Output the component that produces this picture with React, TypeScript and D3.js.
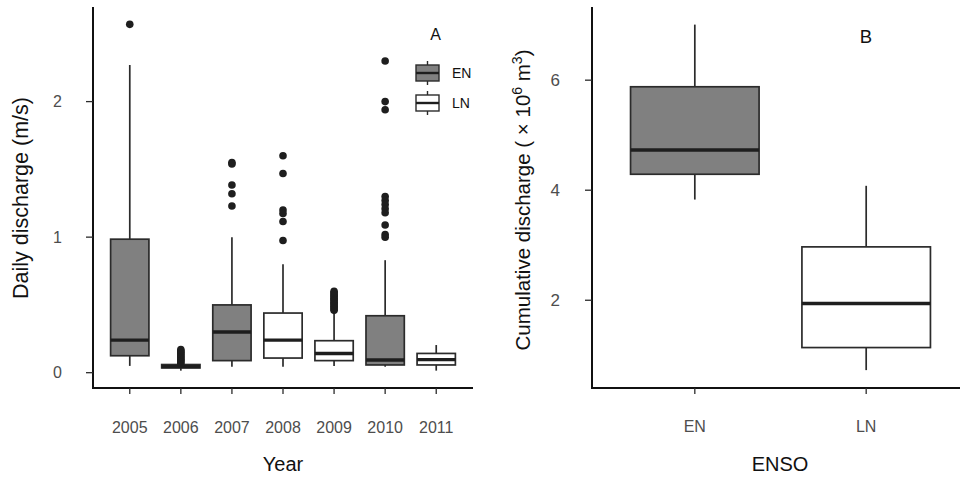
import React from "react";
import * as d3 from "d3";

// ---------- Panel A data (daily discharge by year) ----------
const yearsA = ["2005", "2006", "2007", "2008", "2009", "2010", "2011"];
const ensoA = ["EN", "EN", "EN", "LN", "LN", "EN", "LN"];
const lowA = [0.05, 0.015, 0.044, 0.044, 0.05, 0.044, 0.015];
const q1A = [0.125, 0.035, 0.089, 0.108, 0.089, 0.057, 0.057];
const medA = [0.24, 0.045, 0.3, 0.24, 0.142, 0.094, 0.096];
const q3A = [0.985, 0.06, 0.5, 0.44, 0.236, 0.42, 0.142];
const highA = [2.27, 0.065, 1.0, 0.8, 0.445, 0.83, 0.204];
const out2005 = [2.57];
const out2006 = [0.07, 0.08, 0.09, 0.1, 0.11, 0.12, 0.13, 0.14, 0.15, 0.16, 0.17];
const out2007 = [1.55, 1.54, 1.385, 1.32, 1.23];
const out2008 = [1.6, 1.47, 1.2, 1.175, 1.115, 0.975];
const out2009 = [0.46, 0.47, 0.48, 0.49, 0.5, 0.51, 0.52, 0.53, 0.54, 0.55, 0.56, 0.57, 0.58, 0.59, 0.6];
const out2010 = [2.3, 2.0, 1.94, 1.3, 1.27, 1.24, 1.21, 1.18, 1.09, 1.02, 1.0];
const out2011: number[] = [];
const outliersA = [out2005, out2006, out2007, out2008, out2009, out2010, out2011];
const ticksA = [0, 1, 2];

// ---------- Panel B data (cumulative discharge by ENSO) ----------
const ensoB = ["EN", "LN"];
const lowB = [3.83, 0.73];
const q1B = [4.29, 1.14];
const medB = [4.73, 1.94];
const q3B = [5.88, 2.97];
const highB = [7.01, 4.08];
const ticksB = [2, 4, 6];

const fillFor: Record<string, string> = { EN: "#808080", LN: "#ffffff" };
const STROKE = "#2b2b2b";
const FONT = "'Liberation Sans', Arial, Helvetica, sans-serif";

export default function App() {
  // Panel A scales
  const xA = d3.scalePoint<string>().domain(yearsA).range([93, 473]).padding(0.72);
  const yA = d3.scaleLinear().domain([-0.113, 2.698]).range([388, 7]);
  const bwA = xA.step() * 0.75;

  // Panel B scales
  const xB = d3.scalePoint<string>().domain(ensoB).range([592, 969]).padding(0.6);
  const yB = d3.scaleLinear().domain([0.405, 7.33]).range([388, 7]);
  const bwB = xB.step() * 0.75;

  const box = (
    key: string,
    cx: number,
    bw: number,
    y: d3.ScaleLinear<number, number>,
    lo: number,
    a: number,
    m: number,
    b: number,
    hi: number,
    fill: string,
    sw: number
  ) => (
    <g key={key}>
      <line x1={cx} x2={cx} y1={y(hi)} y2={y(b)} stroke={STROKE} strokeWidth={sw} />
      <line x1={cx} x2={cx} y1={y(a)} y2={y(lo)} stroke={STROKE} strokeWidth={sw} />
      <rect x={cx - bw / 2} y={y(b)} width={bw} height={y(a) - y(b)} fill={fill} stroke={STROKE} strokeWidth={sw} />
      <line x1={cx - bw / 2} x2={cx + bw / 2} y1={y(m)} y2={y(m)} stroke="#1e1e1e" strokeWidth={sw * 2} />
    </g>
  );

  return (
    <svg
      width={960}
      height={477}
      style={{ position: "absolute", left: 0, top: 0, background: "#fff" }}
      fontFamily={FONT}
    >
      {/* ================= Panel A ================= */}
      {yearsA.map((yr, i) =>
        box(`a${i}`, xA(yr)!, bwA, yA, lowA[i], q1A[i], medA[i], q3A[i], highA[i], fillFor[ensoA[i]], 1.7)
      )}
      {yearsA.map((yr, i) =>
        outliersA[i].map((v, j) => <circle key={`o${i}-${j}`} cx={xA(yr)!} cy={yA(v)} r={3.8} fill="#1e1e1e" />)
      )}
      {/* axes */}
      <line x1={93} x2={93} y1={7} y2={389} stroke="#111" strokeWidth={2} />
      <line x1={92} x2={473} y1={388} y2={388} stroke="#111" strokeWidth={2} />
      {ticksA.map((t) => (
        <g key={`ta${t}`}>
          <line x1={86} x2={93} y1={yA(t)} y2={yA(t)} stroke={STROKE} strokeWidth={1.3} />
          <text x={62} y={yA(t)} dy="0.36em" textAnchor="end" fontSize={16} fill="#4d4d4d">
            {t}
          </text>
        </g>
      ))}
      {yearsA.map((yr) => (
        <g key={`xa${yr}`}>
          <line x1={xA(yr)!} x2={xA(yr)!} y1={388} y2={394} stroke={STROKE} strokeWidth={1.3} />
          <text x={xA(yr)!} y={433} textAnchor="middle" fontSize={16} fill="#4d4d4d">
            {yr}
          </text>
        </g>
      ))}
      <text x={283} y={471} textAnchor="middle" fontSize={20} fill="#111">
        Year
      </text>
      <text transform={`translate(28,198) rotate(-90)`} textAnchor="middle" fontSize={21.5} fill="#111">
        Daily discharge (m/s)
      </text>
      {/* legend */}
      <text x={435.5} y={39.5} textAnchor="middle" fontSize={16} fill="#111">
        A
      </text>
      {ensoB.map((k, i) => {
        const cy = 73 + i * 30;
        return (
          <g key={`lg${k}`}>
            <line x1={427.5} x2={427.5} y1={cy - 12} y2={cy + 12} stroke={STROKE} strokeWidth={1.4} />
            <rect x={416} y={cy - 8} width={23} height={16} fill={fillFor[k]} stroke={STROKE} strokeWidth={1.4} />
            <line x1={416} x2={439} y1={cy} y2={cy} stroke="#1e1e1e" strokeWidth={2.4} />
            <text x={452} y={cy + 5} fontSize={14} fill="#111">
              {k}
            </text>
          </g>
        );
      })}

      {/* ================= Panel B ================= */}
      {ensoB.map((k, i) =>
        box(`b${i}`, xB(k)!, bwB, yB, lowB[i], q1B[i], medB[i], q3B[i], highB[i], fillFor[k], 1.7)
      )}
      <line x1={592} x2={592} y1={7} y2={389} stroke="#111" strokeWidth={2} />
      <line x1={591} x2={969} y1={388} y2={388} stroke="#111" strokeWidth={2} />
      {ticksB.map((t) => (
        <g key={`tb${t}`}>
          <line x1={585} x2={592} y1={yB(t)} y2={yB(t)} stroke={STROKE} strokeWidth={1.3} />
          <text x={560} y={yB(t)} dy="0.36em" textAnchor="end" fontSize={17} fill="#4d4d4d">
            {t}
          </text>
        </g>
      ))}
      {ensoB.map((k) => (
        <g key={`xb${k}`}>
          <line x1={xB(k)!} x2={xB(k)!} y1={388} y2={394} stroke={STROKE} strokeWidth={1.3} />
          <text x={xB(k)!} y={432} textAnchor="middle" fontSize={16} fill="#4d4d4d">
            {k}
          </text>
        </g>
      ))}
      <text x={780} y={471} textAnchor="middle" fontSize={20} fill="#111">
        ENSO
      </text>
      <text transform={`translate(530,200) rotate(-90)`} textAnchor="middle" fontSize={20.5} fill="#111">
        Cumulative discharge ( × 10
        <tspan fontSize={14} dy={-8}>
          6
        </tspan>
        <tspan dy={8}> m</tspan>
        <tspan fontSize={14} dy={-8}>
          3
        </tspan>
        <tspan dy={8}>)</tspan>
      </text>
      <text x={866} y={42.5} textAnchor="middle" fontSize={18.5} fill="#111">
        B
      </text>
    </svg>
  );
}
